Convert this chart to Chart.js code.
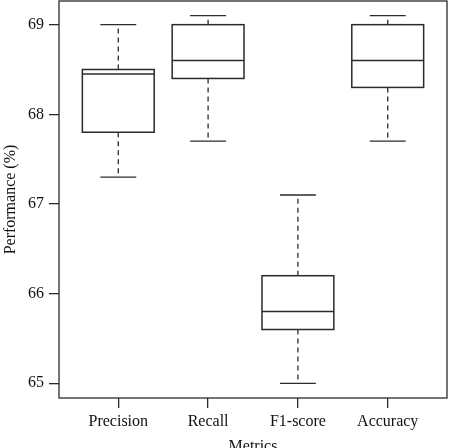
<!DOCTYPE html>
<html>
<head>
<meta charset="utf-8">
<script src="https://cdn.jsdelivr.net/npm/chart.js@4"></script>
<style>
  html, body { margin: 0; padding: 0; background: #fff; }
  #wrap { width: 449px; height: 448px; }
</style>
</head>
<body>
<div id="wrap"><canvas id="boxChart"></canvas></div>
<script>
// box plot data
const categories = ['Precision', 'Recall', 'F1-score', 'Accuracy'];
const whiskerLow = [67.3, 67.7, 65.0, 67.7];
const q1Values = [67.8, 68.4, 65.6, 68.3];
const medianValues = [68.45, 68.6, 65.8, 68.6];
const q3Values = [68.5, 69.0, 66.2, 69.0];
const whiskerHigh = [69.0, 69.1, 67.1, 69.1];
const yTicks = [65, 66, 67, 68, 69];

const ink = '#2b2b2b';
const serif = '"Liberation Serif", "DejaVu Serif", serif';

// draw the boxes through the chart scales
const boxPlugin = {
    id: 'boxes',
    afterDatasetsDraw(chart) {
        const ctx = chart.ctx;
        const xs = chart.scales.x;
        const ys = chart.scales.y;
        const boxHalf = 0.4, capHalf = 0.2;
        ctx.save();
        ctx.strokeStyle = ink;
        categories.forEach((c, i) => {
            const pos = i + 1;
            const xl = xs.getPixelForValue(pos - boxHalf);
            const xr = xs.getPixelForValue(pos + boxHalf);
            const xc = xs.getPixelForValue(pos);
            const cl = xs.getPixelForValue(pos - capHalf);
            const cr = xs.getPixelForValue(pos + capHalf);
            const yLo = ys.getPixelForValue(whiskerLow[i]);
            const yQ1 = ys.getPixelForValue(q1Values[i]);
            const yMed = ys.getPixelForValue(medianValues[i]);
            const yQ3 = ys.getPixelForValue(q3Values[i]);
            const yHi = ys.getPixelForValue(whiskerHigh[i]);

            // whiskers (dashed)
            ctx.lineWidth = 1.3;
            ctx.setLineDash([5, 4]);
            ctx.beginPath();
            ctx.moveTo(xc, yQ1); ctx.lineTo(xc, yLo);
            ctx.moveTo(xc, yQ3); ctx.lineTo(xc, yHi);
            ctx.stroke();
            ctx.setLineDash([]);

            // caps
            ctx.beginPath();
            ctx.moveTo(cl, yLo); ctx.lineTo(cr, yLo);
            ctx.moveTo(cl, yHi); ctx.lineTo(cr, yHi);
            ctx.stroke();

            // box + median
            ctx.fillStyle = '#fff';
            ctx.fillRect(xl, yQ3, xr - xl, yQ1 - yQ3);
            ctx.lineWidth = 1.5;
            ctx.strokeRect(xl, yQ3, xr - xl, yQ1 - yQ3);
            ctx.beginPath();
            ctx.moveTo(xl, yMed); ctx.lineTo(xr, yMed);
            ctx.stroke();
        });

        // plot frame
        const a = chart.chartArea;
        ctx.lineWidth = 1.3;
        ctx.strokeRect(a.left, a.top, a.right - a.left, a.bottom - a.top);
        ctx.restore();
    }
};

new Chart(document.getElementById('boxChart'), {
    type: 'scatter',
    data: {
        datasets: [{
            data: categories.map((c, i) => ({ x: i + 1, y: medianValues[i] })),
            pointRadius: 0,
            showLine: false
        }]
    },
    options: {
        responsive: true,
        maintainAspectRatio: false,
        animation: false,
        events: [],
        layout: { padding: { top: 1, right: 2, left: 0, bottom: 0 } },
        plugins: { legend: { display: false }, tooltip: { enabled: false } },
        scales: {
            x: {
                type: 'linear',
                min: 0.34,
                max: 4.66,
                afterBuildTicks: (scale) => { scale.ticks = categories.map((c, i) => ({ value: i + 1 })); },
                afterFit: (scale) => {
                    scale.height = 50;
                    scale.paddingLeft = 0;
                    scale.paddingRight = 0;
                },
                ticks: {
                    callback: (v) => categories[v - 1] || '',
                    color: '#111',
                    font: { family: serif, size: 16 },
                    padding: 4,
                    maxRotation: 0,
                    autoSkip: false
                },
                grid: { drawOnChartArea: false, color: ink, tickLength: 10, lineWidth: 1.3 },
                border: { display: false },
                title: {
                    display: true,
                    text: 'Metrics',
                    color: '#111',
                    font: { family: serif, size: 16 },
                    padding: { top: 0, bottom: -8 }
                }
            },
            y: {
                min: 64.836,
                max: 69.264,
                afterBuildTicks: (scale) => { scale.ticks = yTicks.map(v => ({ value: v })); },
                afterFit: (scale) => {
                    scale.width = 59;
                    scale.paddingTop = 0;
                    scale.paddingBottom = 0;
                },
                ticks: {
                    color: '#111',
                    font: { family: serif, size: 16 },
                    padding: 5
                },
                grid: { drawOnChartArea: false, color: ink, tickLength: 10, lineWidth: 1.3 },
                border: { display: false },
                title: {
                    display: true,
                    text: 'Performance (%)',
                    color: '#111',
                    font: { family: serif, size: 16 },
                    padding: { top: 1, bottom: 0 }
                }
            }
        }
    },
    plugins: [boxPlugin]
});
</script>
</body>
</html>
